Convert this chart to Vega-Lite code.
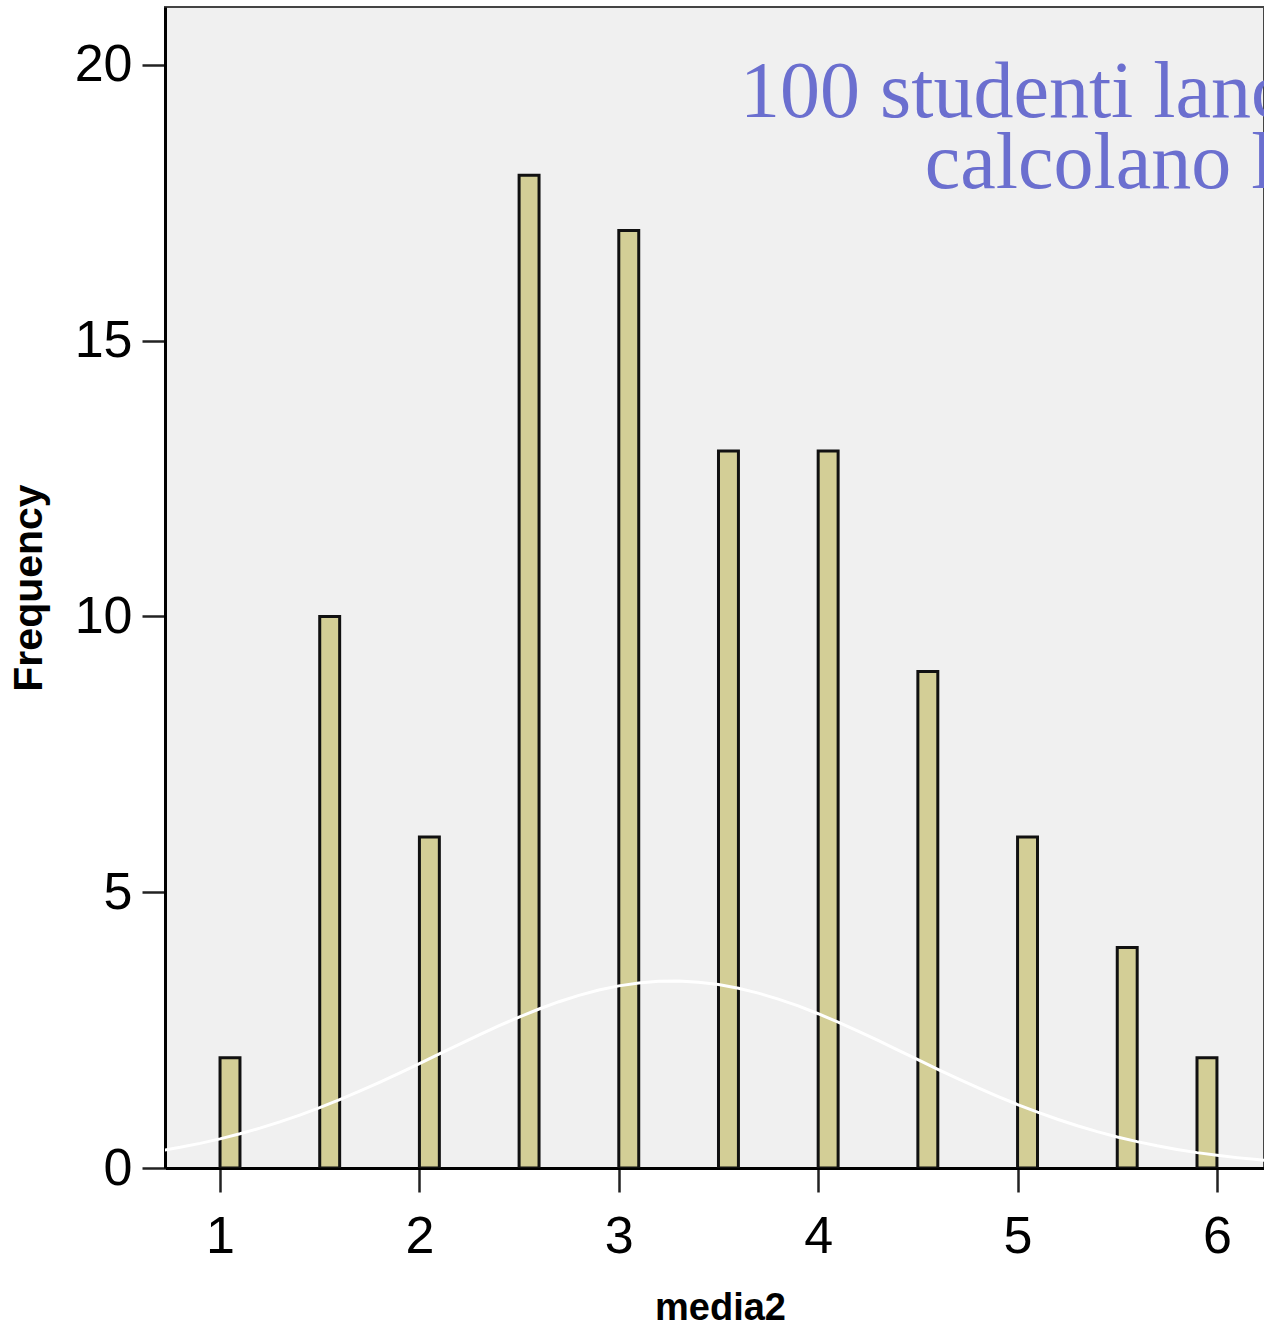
{
  "$schema": "https://vega.github.io/schema/vega-lite/v6.json",
  "width": 1099,
  "height": 1161,
  "autosize": {"type": "none"},
  "padding": {"left": 165, "top": 7, "right": 0, "bottom": 161},
  "background": "white",
  "config": {
    "view": {"fill": "#f0f0f0", "stroke": "#444444", "strokeWidth": 2},
    "font": "Liberation Sans"
  },
  "datasets": {
    "bins": [
      {"start": 1.0, "end": 1.1, "count": 2},
      {"start": 1.5, "end": 1.6, "count": 10},
      {"start": 2.0, "end": 2.1, "count": 6},
      {"start": 2.5, "end": 2.6, "count": 18},
      {"start": 3.0, "end": 3.1, "count": 17},
      {"start": 3.5, "end": 3.6, "count": 13},
      {"start": 4.0, "end": 4.1, "count": 13},
      {"start": 4.5, "end": 4.6, "count": 9},
      {"start": 5.0, "end": 5.1, "count": 6},
      {"start": 5.5, "end": 5.6, "count": 4},
      {"start": 5.9, "end": 6.0, "count": 2}
    ],
    "curve": [
      {"x": 0.7, "y": 0.313}, {"x": 0.8, "y": 0.375}, {"x": 0.9, "y": 0.446},
      {"x": 1.0, "y": 0.528}, {"x": 1.1, "y": 0.62}, {"x": 1.2, "y": 0.722},
      {"x": 1.3, "y": 0.835}, {"x": 1.4, "y": 0.96}, {"x": 1.5, "y": 1.094},
      {"x": 1.6, "y": 1.239}, {"x": 1.7, "y": 1.393}, {"x": 1.8, "y": 1.554},
      {"x": 1.9, "y": 1.722}, {"x": 2.0, "y": 1.894}, {"x": 2.1, "y": 2.068},
      {"x": 2.2, "y": 2.243}, {"x": 2.3, "y": 2.414}, {"x": 2.4, "y": 2.58},
      {"x": 2.5, "y": 2.737}, {"x": 2.6, "y": 2.883}, {"x": 2.7, "y": 3.015},
      {"x": 2.8, "y": 3.13}, {"x": 2.9, "y": 3.227}, {"x": 3.0, "y": 3.302},
      {"x": 3.1, "y": 3.355}, {"x": 3.2, "y": 3.384}, {"x": 3.3, "y": 3.389},
      {"x": 3.4, "y": 3.369}, {"x": 3.5, "y": 3.326}, {"x": 3.6, "y": 3.259},
      {"x": 3.7, "y": 3.171}, {"x": 3.8, "y": 3.063}, {"x": 3.9, "y": 2.938},
      {"x": 4.0, "y": 2.797}, {"x": 4.1, "y": 2.644}, {"x": 4.2, "y": 2.481},
      {"x": 4.3, "y": 2.312}, {"x": 4.4, "y": 2.138}, {"x": 4.5, "y": 1.964},
      {"x": 4.6, "y": 1.79}, {"x": 4.7, "y": 1.621}, {"x": 4.8, "y": 1.456},
      {"x": 4.9, "y": 1.299}, {"x": 5.0, "y": 1.151}, {"x": 5.1, "y": 1.012},
      {"x": 5.2, "y": 0.884}, {"x": 5.3, "y": 0.766}, {"x": 5.4, "y": 0.659},
      {"x": 5.5, "y": 0.563}, {"x": 5.6, "y": 0.478}, {"x": 5.7, "y": 0.402},
      {"x": 5.8, "y": 0.337}, {"x": 5.9, "y": 0.279}, {"x": 6.0, "y": 0.23},
      {"x": 6.1, "y": 0.188}, {"x": 6.2, "y": 0.153}, {"x": 6.3, "y": 0.123}
    ],
    "notes": [
      {"x": 3.608, "y": 19.06, "label": "100 studenti lanciano due dadi e"},
      {"x": 4.535, "y": 17.77, "label": "calcolano la media"}
    ]
  },
  "layer": [
    {
      "data": {"name": "bins"},
      "mark": {"type": "rect", "fill": "#d3ce96", "stroke": "#111111", "strokeWidth": 3, "clip": true},
      "encoding": {
        "x": {
          "field": "start", "type": "quantitative", "title": "media2",
          "scale": {"domain": [0.724, 6.236], "nice": false, "zero": false},
          "axis": {
            "values": [1, 2, 3, 4, 5, 6], "format": "d", "grid": false,
            "domainColor": "#000000", "domainWidth": 3,
            "tickColor": "#222222", "tickWidth": 2.5, "tickSize": 24,
            "labelFontSize": 52, "labelColor": "#000000", "labelPadding": 19, "labelFlush": false,
            "titleFontSize": 38, "titleFontWeight": "bold", "titleColor": "#000000", "titlePadding": 27,
            "titleX": 555
          }
        },
        "x2": {"field": "end"},
        "y": {
          "field": "count", "type": "quantitative", "title": "Frequency",
          "scale": {"domain": [0, 21.05], "nice": false},
          "axis": {
            "values": [0, 5, 10, 15, 20], "format": "d", "grid": false,
            "domainColor": "#000000", "domainWidth": 3,
            "tickColor": "#222222", "tickWidth": 2.5, "tickSize": 23,
            "labelFontSize": 52, "labelColor": "#000000", "labelPadding": 10,
            "titleFontSize": 41, "titleFontWeight": "bold", "titleColor": "#000000", "titlePadding": 24
          }
        },
        "y2": {"datum": 0}
      }
    },
    {
      "data": {"name": "curve"},
      "mark": {"type": "line", "color": "#ffffff", "strokeWidth": 3, "clip": true},
      "encoding": {
        "x": {"field": "x", "type": "quantitative", "title": "media2"},
        "y": {"field": "y", "type": "quantitative", "title": "Frequency"}
      }
    },
    {
      "data": {"name": "notes"},
      "mark": {"type": "text", "font": "Liberation Serif", "fontSize": 80, "color": "#6b6fcf", "align": "left", "baseline": "alphabetic", "clip": true},
      "encoding": {
        "x": {"field": "x", "type": "quantitative", "title": "media2"},
        "y": {"field": "y", "type": "quantitative", "title": "Frequency"},
        "text": {"field": "label"}
      }
    }
  ]
}
